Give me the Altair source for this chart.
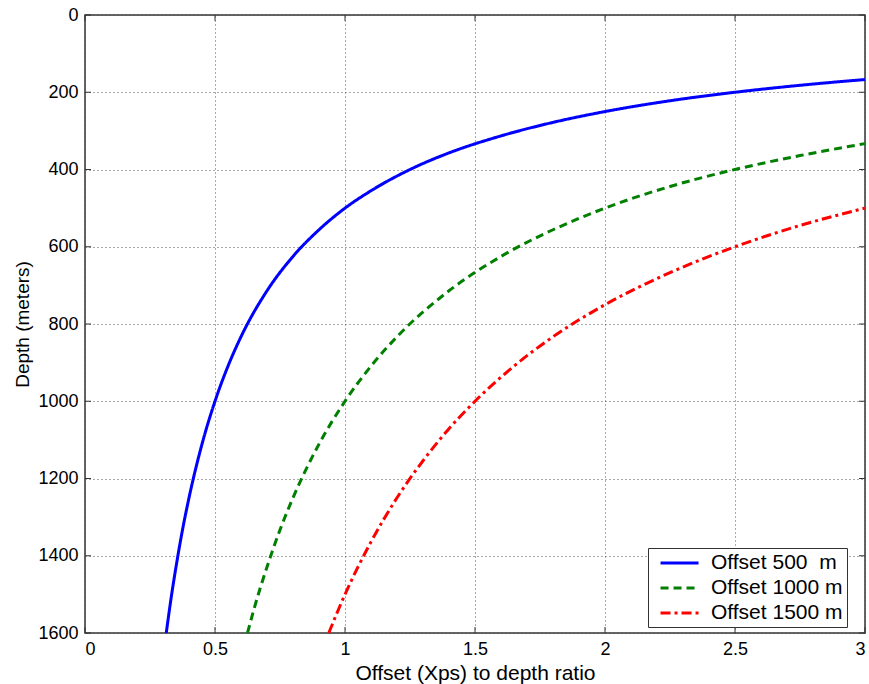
import altair as alt
import pandas as pd

series_names = ["Offset 500\u00a0 m", "Offset 1000 m", "Offset 1500 m"]
series_colors = ["#0000ff", "#007f00", "#ff0000"]
series_dash = [[1, 0], [8, 5], [10, 4, 3, 4]]

x_500 = [0.3125, 0.33, 0.35, 0.375, 0.4, 0.45, 0.5, 0.55, 0.6, 0.7, 0.8, 0.9, 1.0, 1.1, 1.25, 1.4, 1.6, 1.8, 2.0, 2.25, 2.5, 2.75, 3.0]
d_500 = [1600, 1515, 1429, 1333, 1250, 1111, 1000, 909, 833, 714, 625, 556, 500, 455, 400, 357, 313, 278, 250, 222, 200, 182, 167]

x_1000 = [0.625, 0.65, 0.7, 0.75, 0.8, 0.9, 1.0, 1.1, 1.2, 1.4, 1.6, 1.8, 2.0, 2.25, 2.5, 2.75, 3.0]
d_1000 = [1600, 1538, 1429, 1333, 1250, 1111, 1000, 909, 833, 714, 625, 556, 500, 444, 400, 364, 333]

x_1500 = [0.9375, 1.0, 1.05, 1.1, 1.2, 1.3, 1.4, 1.5, 1.65, 1.8, 2.0, 2.25, 2.5, 2.75, 3.0]
d_1500 = [1600, 1500, 1429, 1364, 1250, 1154, 1071, 1000, 909, 833, 750, 667, 600, 545, 500]

x_ticks = [0, 0.5, 1, 1.5, 2, 2.5, 3]
y_ticks = [0, 200, 400, 600, 800, 1000, 1200, 1400, 1600]

rows = []
for name, xs, ds in zip(series_names, [x_500, x_1000, x_1500], [d_500, d_1000, d_1500]):
    for i, (x, d) in enumerate(zip(xs, ds)):
        rows.append({"series": name, "ratio": x, "depth": d, "order": i})
df = pd.DataFrame(rows)

W, H = 780, 618
FONT = "Liberation Sans"

xscale = alt.Scale(domain=[0, 3], nice=False, zero=False)
yscale = alt.Scale(domain=[0, 1600], reverse=True, nice=False, zero=False)

lines = alt.Chart(df).mark_line(strokeWidth=3, interpolate="monotone").encode(
    x=alt.X("ratio:Q", scale=xscale, title="Offset (Xps) to depth ratio",
            axis=alt.Axis(values=x_ticks, format="~g", grid=True, gridDash=[1, 3], gridColor="#555555",
                          gridOpacity=1, ticks=False, domain=False, labelPadding=7, titlePadding=4,
                          titleFontSize=21)),
    y=alt.Y("depth:Q", scale=yscale, title="Depth (meters)",
            axis=alt.Axis(values=y_ticks, format="d", grid=True, gridDash=[1, 3], gridColor="#555555",
                          gridOpacity=1, ticks=False, domain=False, labelPadding=7, titlePadding=5,
                          titleFontSize=19)),
    color=alt.Color("series:N", scale=alt.Scale(domain=series_names, range=series_colors),
                    legend=alt.Legend(title=None, orient="none", legendX=563, legendY=533,
                                      strokeColor="#333333", fillColor="white", padding=4,
                                      symbolType="M-0.26,0H3.74", symbolSize=361, symbolStrokeWidth=3,
                                      labelFontSize=21, labelFont=FONT, labelColor="black",
                                      rowPadding=4, labelOffset=37, cornerRadius=0)),
    strokeDash=alt.StrokeDash("series:N", scale=alt.Scale(domain=series_names, range=series_dash), legend=None),
    order="order:Q",
)

xt = pd.DataFrame({"v": x_ticks})
yt = pd.DataFrame({"v": y_ticks})
tick_color = "#333333"
xb = alt.Chart(xt).mark_rule(color=tick_color).encode(x=alt.X("v:Q", scale=xscale), y=alt.value(H), y2=alt.value(H - 6))
xtop = alt.Chart(xt).mark_rule(color=tick_color).encode(x=alt.X("v:Q", scale=xscale), y=alt.value(0), y2=alt.value(6))
yl = alt.Chart(yt).mark_rule(color=tick_color).encode(y=alt.Y("v:Q", scale=yscale), x=alt.value(0), x2=alt.value(6))
yr = alt.Chart(yt).mark_rule(color=tick_color).encode(y=alt.Y("v:Q", scale=yscale), x=alt.value(W), x2=alt.value(W - 6))

chart = alt.layer(lines, xb, xtop, yl, yr).properties(
    width=W, height=H,
    autosize=alt.AutoSizeParams(type="none"),
    padding={"left": 85, "top": 15, "right": 4, "bottom": 51},
    background="white",
).configure_view(stroke="#333333", strokeWidth=1.5).configure_axis(
    labelFont=FONT, labelFontSize=18, labelColor="black",
    titleFont=FONT, titleFontWeight="normal", titleColor="black",
)

chart.save("out.html", embed_options={"renderer": "svg", "actions": False})
